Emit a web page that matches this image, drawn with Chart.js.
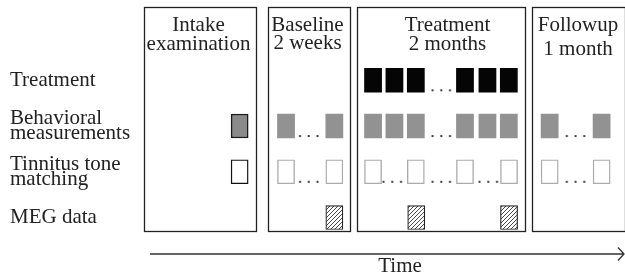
<!DOCTYPE html>
<html>
<head>
<meta charset="utf-8">
<script src="https://cdn.jsdelivr.net/npm/chart.js@4.4.1/dist/chart.umd.min.js"></script>
<style>
  html, body { margin: 0; padding: 0; background: #fff; }
</style>
</head>
<body>
<canvas id="timeline" width="625" height="279"></canvas>
<script>
const FONT = '"Liberation Serif", "Times New Roman", serif';
const INK = "#222";

// Rows of the protocol (y axis, top to bottom)
const rowLabels = [
  "Treatment",
  ["Behavioral", "measurements"],
  ["Tinnitus tone", "matching"],
  "MEG data",
];

// Study phases, in schematic session slots
const phaseTitles = [
  ["Intake", "examination"],
  ["Baseline", "2 weeks"],
  ["Treatment", "2 months"],
  ["Followup", "1 month"],
];
const phaseStart = [-0.72, 5.07, 9.24, 17.43];
const phaseEnd = [4.51, 8.91, 17.11, 21.8];

// Sessions per row (slot where each square sits)
const treatmentSessions = [10, 11, 12, 14.3, 15.35, 16.35];
const behavioralSessions = [3.76, 5.93, 8.19, 10, 11, 12, 14.3, 15.35, 16.35, 18.26, 20.69];
const toneMatchSessions = [3.76, 5.93, 8.19, 10, 12, 14.3, 16.36, 18.26, 20.69];
const megSessions = [8.19, 12.02, 16.36];

// Where the "..." (omitted sessions) go
const treatmentGaps = [13.19];
const behavioralGaps = [6.99, 13.19, 19.47];
const toneMatchGaps = [6.99, 10.9, 13.19, 15.39, 19.47];

// layout bits (not data)
const SQUARE = 0.8;               // square width, in slots
const TITLE_SHIFT = [-2, -2, 6, -1];
const TITLE_GAP = [19, 18, 19, 24];

const squares = (xs, row) => xs.map((x) => ({ y: row, x: [x - SQUARE / 2, x + SQUARE / 2] }));
const gaps = (xs, row) => xs.map((x) => ({ x, y: row }));

function hatchPattern() {
  const c = document.createElement("canvas");
  c.width = 4;
  c.height = 4;
  const g = c.getContext("2d");
  g.fillStyle = "#fff";
  g.fillRect(0, 0, 4, 4);
  g.strokeStyle = "#333";
  g.lineWidth = 0.9;
  g.beginPath();
  g.moveTo(0, 4); g.lineTo(4, 0);
  g.moveTo(-1, 1); g.lineTo(1, -1);
  g.moveTo(3, 5); g.lineTo(5, 3);
  g.stroke();
  return g.createPattern(c, "repeat");
}

function ellipsisImage() {
  const c = document.createElement("canvas");
  c.width = 22;
  c.height = 24;
  const g = c.getContext("2d");
  g.fillStyle = "#111";
  [2.3, 11, 19.7].forEach((x) => {
    g.beginPath();
    g.arc(x, 22, 1.1, 0, Math.PI * 2);
    g.fill();
  });
  return c;
}

const dots = ellipsisImage();

/** Phase boxes with titles, plus the time arrow. */
const timelineFrame = {
  id: "timelineFrame",
  beforeDatasetsDraw(chart) {
    const { ctx, chartArea } = chart;
    const x = chart.scales.x;
    ctx.save();
    ctx.strokeStyle = INK;
    ctx.lineWidth = 1.3;
    ctx.fillStyle = INK;
    ctx.font = `21px ${FONT}`;
    ctx.textAlign = "center";
    ctx.textBaseline = "alphabetic";
    phaseTitles.forEach((lines, i) => {
      const l = Math.round(x.getPixelForValue(phaseStart[i])) + 0.5;
      const r = Math.round(x.getPixelForValue(phaseEnd[i])) + 0.5;
      ctx.strokeRect(l, 7.5, r - l, 224);
      const cx = (l + r) / 2 + TITLE_SHIFT[i];
      ctx.fillText(lines[0], cx, 31);
      ctx.fillText(lines[1], cx, 31 + TITLE_GAP[i]);
    });

    // time arrow
    const y = 254;
    const x0 = chartArea.left + 10;
    const x1 = chart.width - 1;
    ctx.strokeStyle = "#333";
    ctx.beginPath();
    ctx.moveTo(x0, y);
    ctx.lineTo(x1, y);
    ctx.moveTo(x1 - 6, y - 6.5);
    ctx.lineTo(x1, y);
    ctx.lineTo(x1 - 6, y + 6.5);
    ctx.stroke();
    ctx.fillText("Time", 400, 272);
    ctx.restore();
  },
};

const barBase = {
  type: "bar",
  grouped: false,
  barThickness: 24,
  borderSkipped: false,
};

new Chart(document.getElementById("timeline"), {
  type: "bar",
  data: {
    labels: rowLabels,
    datasets: [
      {
        ...barBase,
        label: "Treatment",
        data: squares(treatmentSessions, rowLabels[0]),
        backgroundColor: "#050505",
        borderWidth: 0,
      },
      {
        ...barBase,
        label: "Behavioral measurements",
        data: squares(behavioralSessions, rowLabels[1]),
        backgroundColor: (c) => (c.dataIndex === 0 ? "#8a8a8a" : "#929292"),
        borderColor: "#1a1a1a",
        borderWidth: (c) => (c.dataIndex === 0 ? 1.5 : 0),
      },
      {
        ...barBase,
        label: "Tinnitus tone matching",
        data: squares(toneMatchSessions, rowLabels[2]),
        backgroundColor: "#fff",
        borderColor: (c) => (c.dataIndex === 0 ? "#111" : "#ababab"),
        borderWidth: 1.4,
      },
      {
        ...barBase,
        label: "MEG data",
        data: squares(megSessions, rowLabels[3]),
        backgroundColor: hatchPattern(),
        borderColor: "#222",
        borderWidth: 1.2,
      },
      ...[
        [treatmentGaps, rowLabels[0]],
        [behavioralGaps, rowLabels[1]],
        [toneMatchGaps, rowLabels[2]],
      ].map(([xs, row]) => ({
        type: "scatter",
        label: "omitted",
        data: gaps(xs, row),
        pointStyle: dots,
        pointRadius: 4,
        showLine: false,
      })),
    ],
  },
  options: {
    indexAxis: "y",
    responsive: false,
    animation: false,
    events: [],
    layout: { padding: { top: 57.4, bottom: 38.6, left: 10, right: 0 } },
    plugins: {
      legend: { display: false },
      tooltip: { enabled: false },
    },
    scales: {
      x: {
        type: "linear",
        display: false,
        min: -0.9,
        max: 21.55,
      },
      y: {
        type: "category",
        offset: true,
        grid: { display: false },
        border: { display: false },
        afterFit: (scale) => {
          scale.width = 130;
        },
        ticks: {
          autoSkip: false,
          crossAlign: "far",
          color: INK,
          font: { family: FONT, size: 21, lineHeight: "15.5px" },
        },
      },
    },
  },
  plugins: [timelineFrame],
});
</script>
</body>
</html>
